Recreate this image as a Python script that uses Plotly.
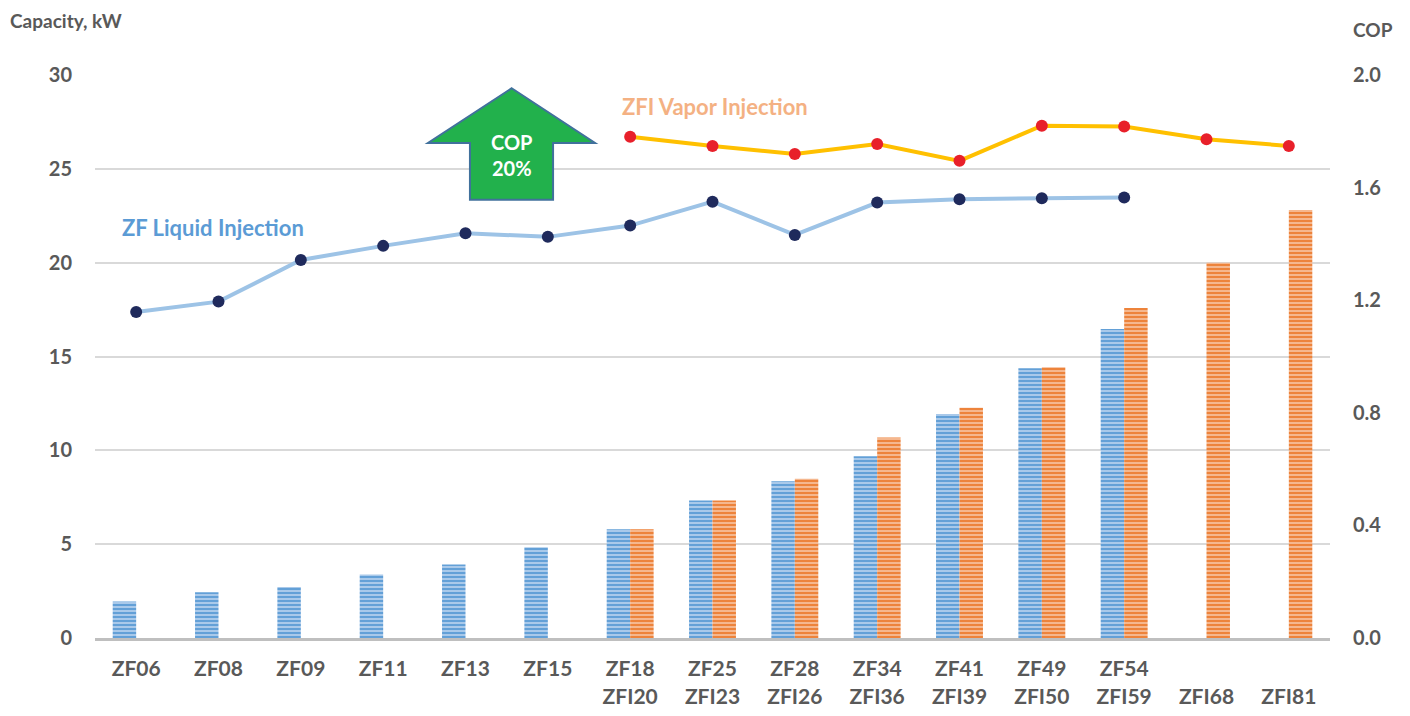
import plotly.graph_objects as go

# ---- data ----
categories = ["ZF06", "ZF08", "ZF09", "ZF11", "ZF13", "ZF15",
              "ZF18<br>ZFI20", "ZF25<br>ZFI23", "ZF28<br>ZFI26", "ZF34<br>ZFI36",
              "ZF41<br>ZFI39", "ZF49<br>ZFI50", "ZF54<br>ZFI59", " <br>ZFI68", " <br>ZFI81"]
zf_capacity = [1.95, 2.44, 2.72, 3.39, 3.92, 4.84, 5.8, 7.33, 8.35, 9.68, 11.94, 14.38, 16.46, None, None]
zfi_capacity = [None, None, None, None, None, None, 5.8, 7.33, 8.49, 10.69, 12.27, 14.43, 17.59, 20.0, 22.8]
zf_cop = [1.158, 1.195, 1.343, 1.393, 1.438, 1.425, 1.465, 1.550, 1.432, 1.547, 1.559, 1.562, 1.565]
zfi_cop = [1.781, 1.748, 1.719, 1.755, 1.695, 1.820, 1.817, 1.772, 1.748]
zf_cop_cats = categories[:13]
zfi_cop_cats = categories[6:]
left_ticks = [0, 5, 10, 15, 20, 25, 30]
right_ticks = [0.0, 0.4, 0.8, 1.2, 1.6, 2.0]

FONT = "Lato"
GRAY = "#595959"

fig = go.Figure()

fig.add_trace(go.Bar(
    x=categories, y=zf_capacity, name="ZF",
    marker=dict(color="#5B9BD5", line=dict(width=0),
                pattern=dict(shape="-", size=4, solidity=0.45,
                             fgcolor="#5B9BD5", bgcolor="#A9C9EA", fillmode="replace")),
))
fig.add_trace(go.Bar(
    x=categories, y=zfi_capacity, name="ZFI",
    marker=dict(color="#ED7D31", line=dict(width=0),
                pattern=dict(shape="-", size=4, solidity=0.45,
                             fgcolor="#ED7D31", bgcolor="#F5B78E", fillmode="replace")),
))

fig.add_trace(go.Scatter(
    x=zf_cop_cats, y=zf_cop, yaxis="y2", mode="lines+markers", name="ZF COP",
    line=dict(color="#9DC3E6", width=4),
    marker=dict(color="#1F2A5C", size=12),
))
fig.add_trace(go.Scatter(
    x=zfi_cop_cats, y=zfi_cop, yaxis="y2", mode="lines+markers", name="ZFI COP",
    line=dict(color="#FFC000", width=4),
    marker=dict(color="#E8202A", size=12),
))

# arrow shape in paper coordinates (page px -> paper)
def px(x):
    return (x - 95) / 1235

def py(y):
    return (638.5 - y) / 563.5

arrow_pts = [(511.7, 88.3), (595, 143), (553, 143), (553, 200), (470, 200), (470, 143), (428, 143)]
path = "M " + " L ".join(f"{px(a):.4f},{py(b):.4f}" for a, b in arrow_pts) + " Z"

# page body has an 8px margin, so the figure is offset by 8px
fig.update_layout(
    width=1402, height=708,
    margin=dict(l=87, r=80, t=67, b=77.5),
    paper_bgcolor="white", plot_bgcolor="white",
    showlegend=False,
    barmode="group", bargap=0.43, bargroupgap=0,
    font=dict(family=FONT, color=GRAY),
    xaxis=dict(
        type="category", categoryorder="array", categoryarray=categories,
        range=[-0.5, len(categories) - 0.5], automargin=False,
        showline=True, linecolor="#BFBFBF", linewidth=3,
        showgrid=False, ticks="", ticklabelstandoff=10,
        tickfont=dict(family=FONT, size=21, color=GRAY, weight="bold"),
    ),
    yaxis=dict(
        range=[0, 30], tickvals=left_ticks, automargin=False,
        showgrid=True, gridcolor="#D9D9D9", gridwidth=1.5,
        zeroline=False, showline=False, ticks="", ticklabelstandoff=22,
        tickfont=dict(family=FONT, size=20, color=GRAY, weight="bold"),
    ),
    yaxis2=dict(
        overlaying="y", side="right", range=[0, 2.0], tickvals=right_ticks,
        tickformat=".1f", showgrid=False, zeroline=False, showline=False,
        automargin=False, ticks="", ticklabelstandoff=22,
        tickfont=dict(family=FONT, size=20, color=GRAY, weight="bold"),
    ),
    shapes=[dict(type="path", xref="paper", yref="paper", path=path,
                 fillcolor="#22B14C", line=dict(color="#41719C", width=2), layer="above")],
    annotations=[
        dict(text="<b>Capacity, kW</b>", xref="paper", yref="paper", x=px(9), y=py(8),
             xanchor="left", yanchor="top", showarrow=False, borderpad=0,
             font=dict(family=FONT, size=19, color=GRAY)),
        dict(text="<b>COP</b>", xref="paper", yref="paper", x=px(1373), y=py(29),
             xanchor="center", yanchor="middle", showarrow=False,
             font=dict(family=FONT, size=19, color=GRAY)),
        dict(text="<b>ZF Liquid Injection</b>", xref="paper", yref="paper", x=px(212.5), y=py(228),
             xanchor="center", yanchor="middle", showarrow=False,
             font=dict(family=FONT, size=22, color="#5B9BD5")),
        dict(text="<b>ZFI Vapor Injection</b>", xref="paper", yref="paper", x=px(714.5), y=py(107),
             xanchor="center", yanchor="middle", showarrow=False,
             font=dict(family=FONT, size=22, color="#F4B183")),
        dict(text="<b>COP<br>20%</b>", xref="paper", yref="paper", x=px(511.5), y=py(155),
             xanchor="center", yanchor="middle", showarrow=False,
             font=dict(family=FONT, size=20, color="white")),
    ],
)

fig.write_html("out.html")
